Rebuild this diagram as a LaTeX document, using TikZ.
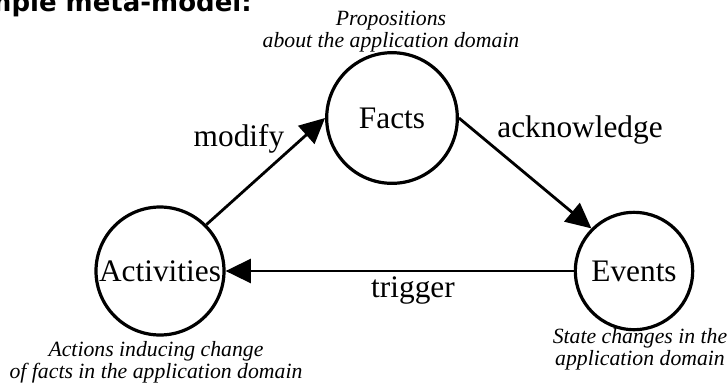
\documentclass[tikz,border=0pt]{standalone}
\usepackage{fontspec}
\setmainfont{Liberation Serif}
\newfontfamily\titlefont{DejaVu Sans}
\usetikzlibrary{arrows.meta}

\begin{document}
\begin{tikzpicture}[x=0.75pt,y=-0.75pt,
  concept/.style={draw,circle,line width=2.4pt,inner sep=0pt,font=\fontsize{23.5}{27}\selectfont},
  flow/.style={line width=2.1pt,-{Triangle[length=19pt,width=18pt]}},
  verb/.style={inner sep=0pt,font=\fontsize{23.5}{27}\selectfont},
  gloss/.style={inner sep=0pt,align=center,font=\fontsize{16.3}{16.5}\selectfont\itshape}]
\useasboundingbox (0,0) rectangle (727,383);
\begin{scope}
\clip (0,0) rectangle (727,383);
\node[anchor=base east,inner sep=0pt,font=\titlefont\bfseries\fontsize{19.5}{20}\selectfont] (title) at (252,11) {Simple meta-model:};
\end{scope}
% the three concepts
\node[concept,minimum size=98pt] (facts) at (392,118) {Facts};
\node[concept,minimum size=96pt] (act) at (160,271) {Activities};
\node[concept,minimum size=88pt] (events) at (634,271) {Events};
% relations
\draw[flow] (act.45) -- (facts.west);
\draw[flow] (facts.east) -- (events.135);
\draw[flow] (events.west) -- (act.east);
\node[verb] (modify) at (239,139) {modify};
\node[verb] (ack) at (580,130) {acknowledge};
\node[verb] (trig) at (413,290) {trigger};
% explanations
\node[gloss] (factsnote) at (391,31.5) {Propositions\\about the application domain};
\node[gloss] (actnote) at (156,362.5) {Actions inducing change\\of facts in the application domain};
\node[gloss] (eventsnote) at (640,349) {State changes in the\\application domain};
\end{tikzpicture}
\end{document}
